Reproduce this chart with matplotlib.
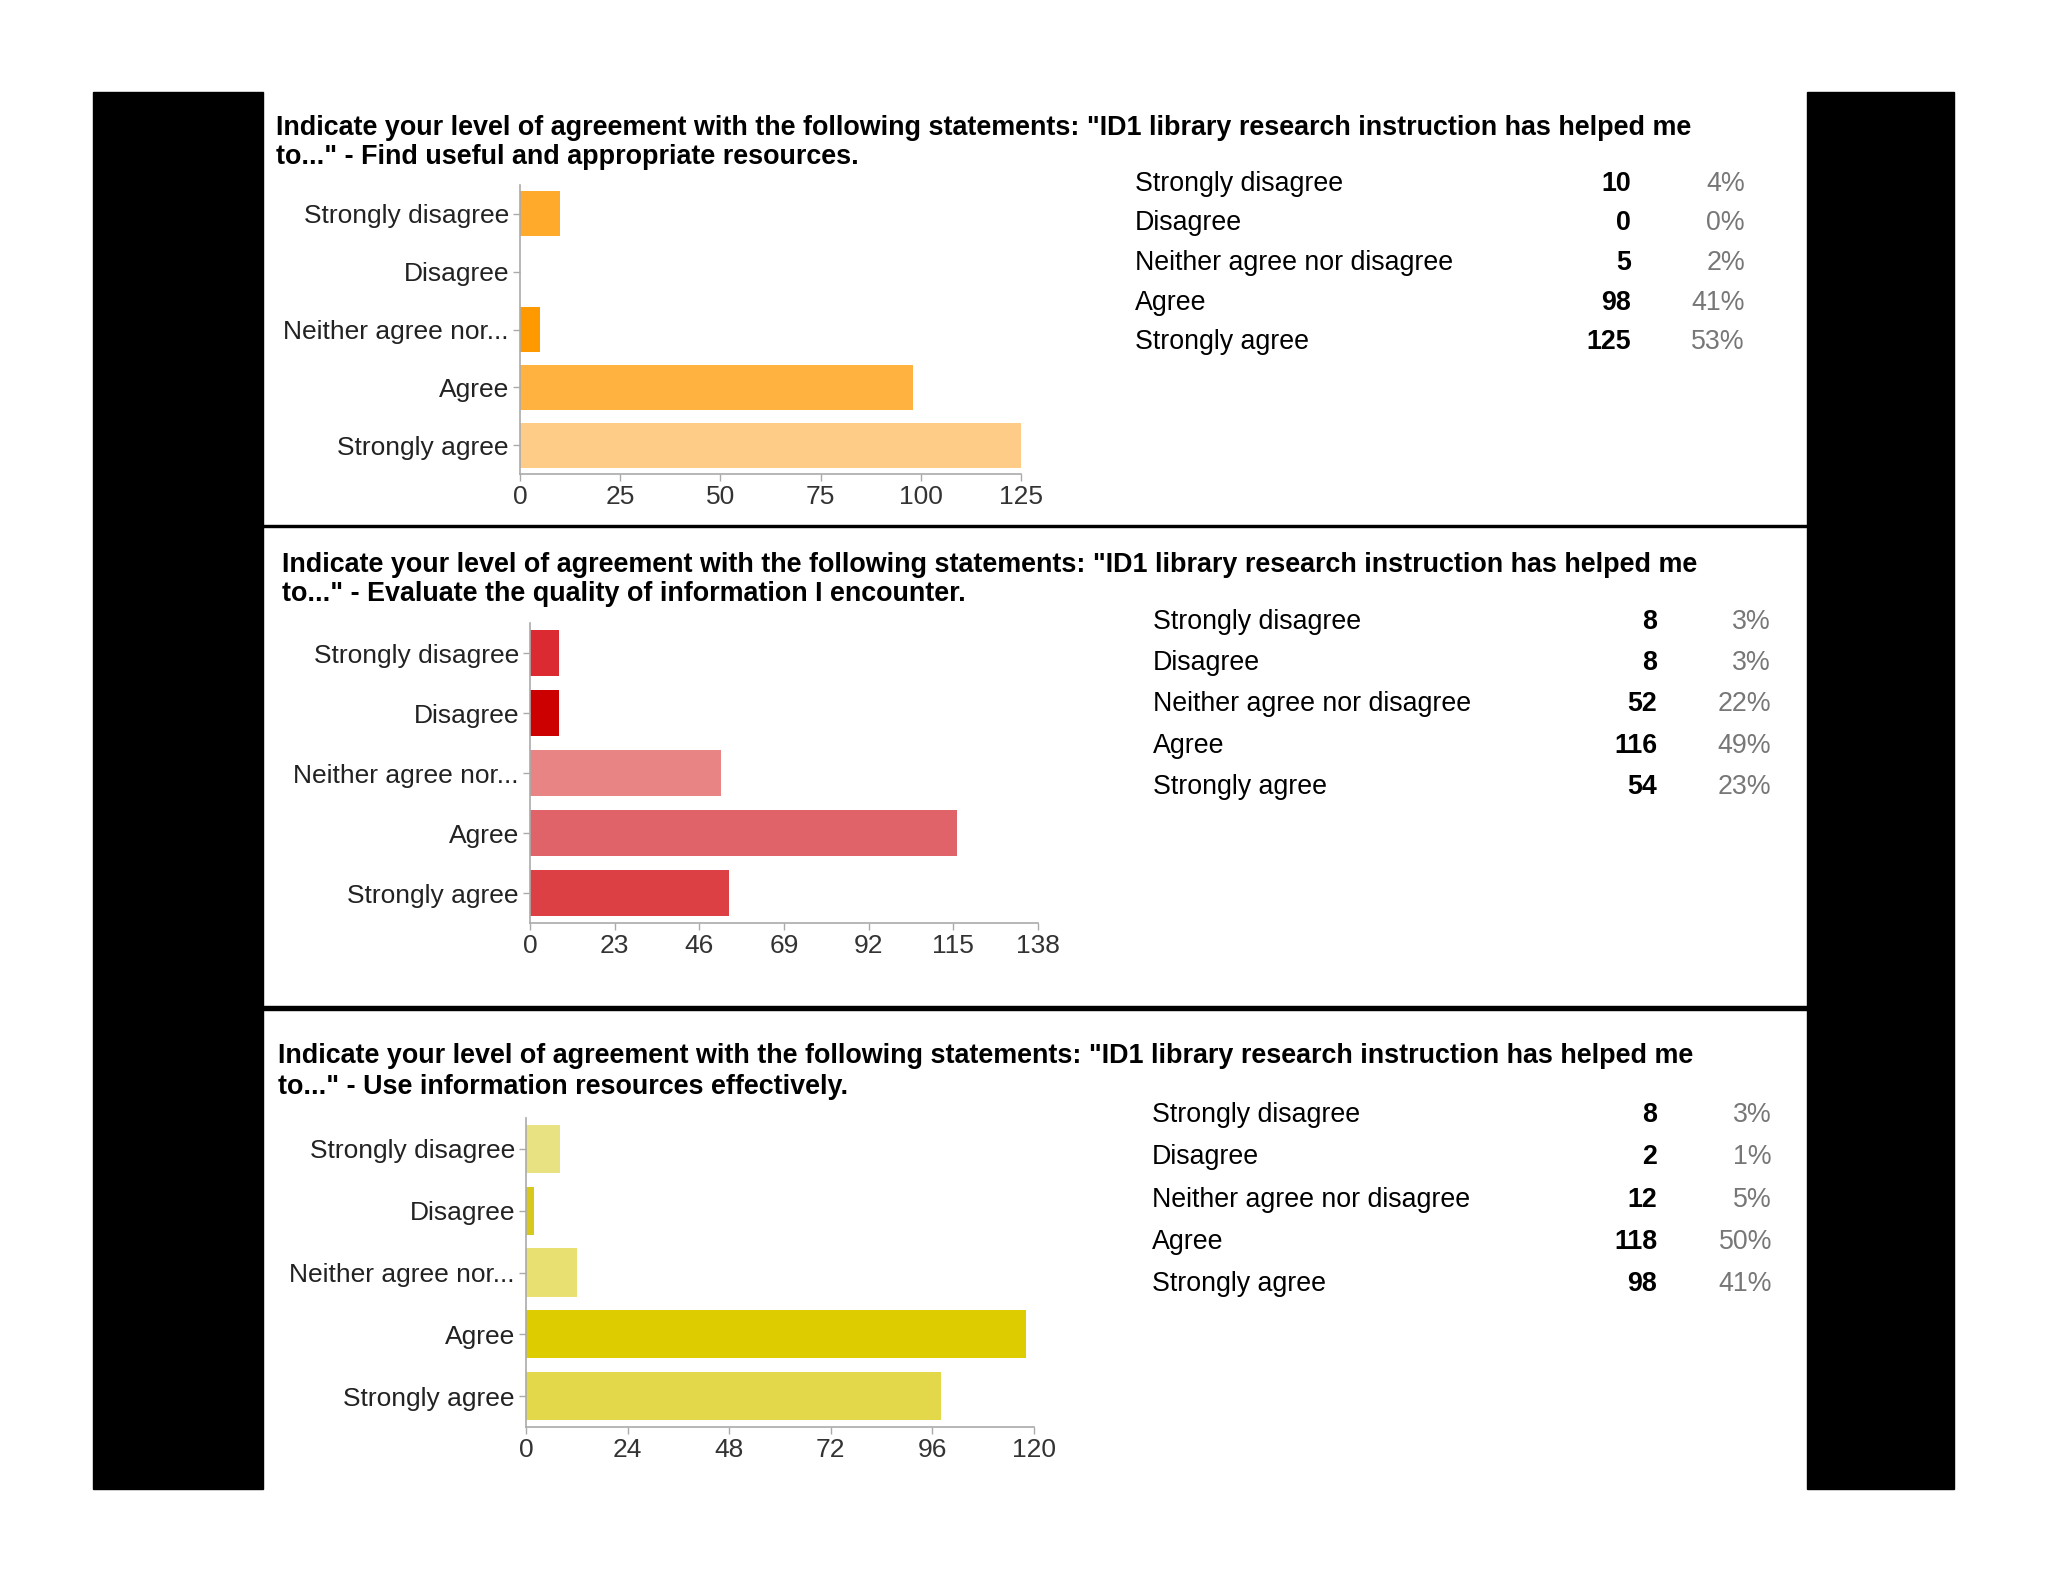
import matplotlib
matplotlib.use("Agg")
import matplotlib.pyplot as plt
from matplotlib import font_manager
from matplotlib.patches import Rectangle

# ---- data ----
categories = ["Strongly disagree", "Disagree", "Neither agree nor disagree", "Agree", "Strongly agree"]
axis_labels = ["Strongly disagree", "Disagree", "Neither agree nor...", "Agree", "Strongly agree"]

find_counts = [10, 0, 5, 98, 125]
find_pct = ["4%", "0%", "2%", "41%", "53%"]
find_ticks = [0, 25, 50, 75, 100, 125]

eval_counts = [8, 8, 52, 116, 54]
eval_pct = ["3%", "3%", "22%", "49%", "23%"]
eval_ticks = [0, 23, 46, 69, 92, 115, 138]

use_counts = [8, 2, 12, 118, 98]
use_pct = ["3%", "1%", "5%", "50%", "41%"]
use_ticks = [0, 24, 48, 72, 96, 120]

title_line1 = "Indicate your level of agreement with the following statements: \"ID1 library research instruction has helped me"
title_line2 = [
    "to...\" - Find useful and appropriate resources.",
    "to...\" - Evaluate the quality of information I encounter.",
    "to...\" - Use information resources effectively.",
]

find_colors = ["#ffaa2a", "#ffffff", "#ff9900", "#ffb240", "#ffcc88"]
eval_colors = ["#dc2a32", "#cc0000", "#e88484", "#e0636a", "#dc4044"]
use_colors = ["#e8e282", "#d8c81c", "#e8e070", "#dccc00", "#e2d84a"]

W, H = 2048, 1582
names = {f.name for f in font_manager.fontManager.ttflist}
if "Liberation Sans Narrow" in names:
    NARROW, NSIZE = "Liberation Sans Narrow", 23.0
else:
    NARROW, NSIZE = "Liberation Sans", 19.0
TSIZE = 19.3
TITLE_SIZE = NSIZE * 1.02


def fx(x):
    return x / W


def fy(y):
    return 1 - y / H


fig = plt.figure(figsize=(W / 100, H / 100), dpi=100)
fig.patch.set_facecolor("white")

# black side frames and separators
for (x0, y0, x1, y1) in [(93, 92, 263, 1489), (1807, 92, 1954, 1489),
                         (263, 525, 1807, 527), (263, 1006, 1807, 1010)]:
    fig.patches.append(Rectangle((fx(x0), fy(y1)), (x1 - x0) / W, (y1 - y0) / H,
                                 transform=fig.transFigure, color="black", zorder=0))

panels = [
    dict(counts=find_counts, pct=find_pct, ticks=find_ticks, colors=find_colors,
         ax=(520, 185, 1021, 474), title=(276, 128, 157), table=(1135, 184, 1631, 1745, 39.5)),
    dict(counts=eval_counts, pct=eval_pct, ticks=eval_ticks, colors=eval_colors,
         ax=(530, 623, 1038, 923), title=(282, 565, 594), table=(1153, 622, 1657, 1771, 41.2)),
    dict(counts=use_counts, pct=use_pct, ticks=use_ticks, colors=use_colors,
         ax=(526, 1118, 1034, 1427), title=(278, 1056, 1087), table=(1152, 1115, 1657, 1772, 42.3)),
]

for i, p in enumerate(panels):
    x0, y0, x1, y1 = p["ax"]
    ax = fig.add_axes([fx(x0), fy(y1), (x1 - x0) / W, (y1 - y0) / H])
    ax.barh(range(len(categories)), p["counts"], height=0.78, color=p["colors"])
    ax.set_xlim(p["ticks"][0], p["ticks"][-1])
    ax.set_ylim(4.5, -0.5)
    ax.set_xticks(p["ticks"])
    ax.set_yticks(range(len(categories)))
    ax.set_yticklabels(axis_labels, family=NARROW, fontsize=NSIZE, color="#222222")
    ax.set_xticklabels([str(t) for t in p["ticks"]], family=NARROW, fontsize=NSIZE, color="#333333")
    ax.tick_params(axis="both", length=5, width=1, color="#aaaaaa", pad=3)
    for s in ["top", "right"]:
        ax.spines[s].set_visible(False)
    for s in ["left", "bottom"]:
        ax.spines[s].set_color("#aaaaaa")
        ax.spines[s].set_linewidth(1.2)
    ax.set_facecolor("none")

    tx, ty1, ty2 = p["title"]
    fig.text(fx(tx), fy(ty1), title_line1, family=NARROW, fontsize=TITLE_SIZE, fontweight="bold",
             ha="left", va="center", color="black")
    fig.text(fx(tx), fy(ty2), title_line2[i], family=NARROW, fontsize=TITLE_SIZE, fontweight="bold",
             ha="left", va="center", color="black")

    lx, ly, cx, px, step = p["table"]
    for j, cat in enumerate(categories):
        yy = fy(ly + j * step)
        fig.text(fx(lx), yy, cat, family="Liberation Sans", fontsize=TSIZE, ha="left", va="center")
        fig.text(fx(cx), yy, str(p["counts"][j]), family="Liberation Sans", fontsize=TSIZE,
                 fontweight="bold", ha="right", va="center")
        fig.text(fx(px), yy, p["pct"][j], family="Liberation Sans", fontsize=TSIZE,
                 color="#777777", ha="right", va="center")

fig.savefig("out.png", dpi=100, facecolor="white")
